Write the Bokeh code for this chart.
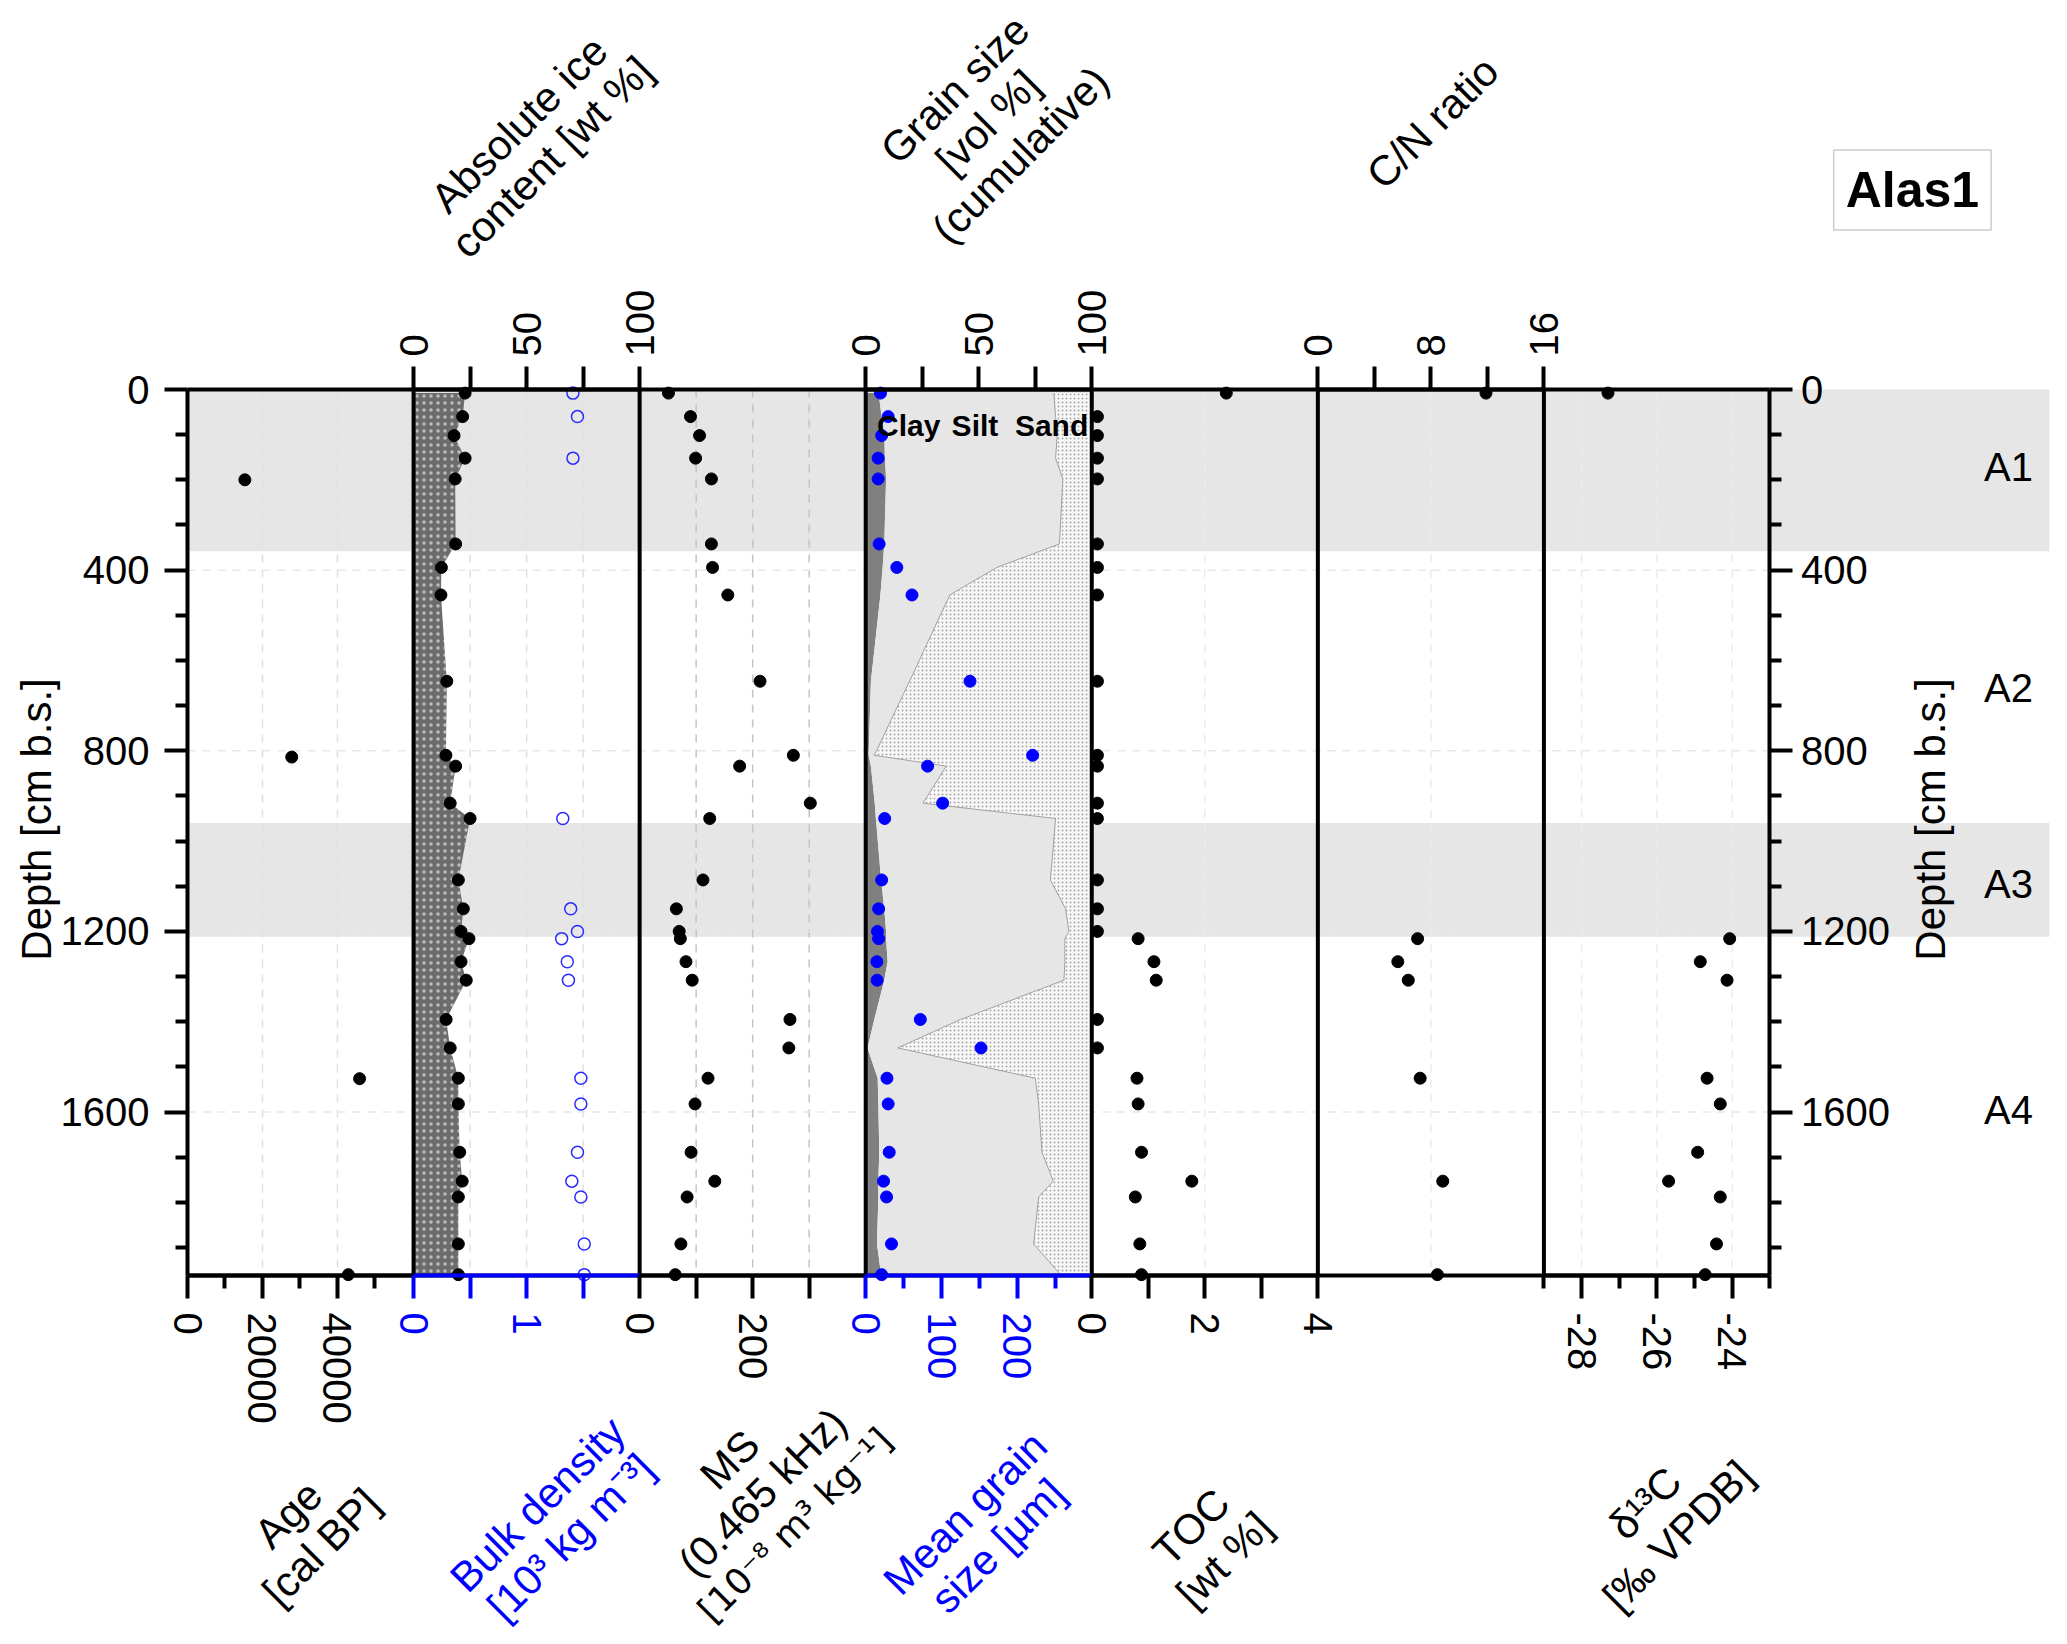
import math
from bokeh.plotting import figure
from bokeh.models import (Range1d, LinearAxis, FixedTicker, BoxAnnotation, Label,
                          PrintfTickFormatter)
from bokeh.embed import file_html
from bokeh.resources import INLINE

FONT = "Liberation Sans"

# ---------------- data ----------------
DEPTH = [8, 60, 102, 152, 198, 342, 394, 455, 646, 810, 834, 916, 950, 1086,
         1150, 1200, 1216, 1267, 1308, 1395, 1458, 1525, 1582, 1689, 1753,
         1788, 1892, 1960]
ICE = [22.8, 21.7, 17.9, 22.8, 18.4, 18.6, 12.3, 12.1, 14.7, 14.3, 18.6, 16.2,
       25.0, 19.8, 22.0, 21.0, 24.5, 21.0, 23.3, 14.4, 16.2, 19.8, 19.8, 20.4,
       21.5, 19.8, 19.8, 19.8]
MS = [51, 90, 106, 99, 127, 127, 129, 156, 213, 272, 177, 302, 124, 112, 65,
      70, 72, 82, 93, 266, 264, 121, 98, 91, 133, 84, 73, 63]
MGS = [19.5, 29.6, 21, 16.4, 16.4, 17.7, 41, 61, 137.5, 220, 81.6, 101.4, 25,
       21, 17, 15.5, 17, 14.7, 15, 72, 152, 28, 29.6, 31, 23.5, 27.5, 34, 21]
CLAY_CUM = [5.7, 7, 8.2, 8.5, 9, 8.2, 7.5, 6.5, 2.3, 1.3, 2.3, 4, 4.5, 6.8, 8.2,
            9, 9, 9.7, 8.2, 3.8, 0.8, 5.3, 5.6, 6, 5.6, 5.6, 5, 6.8]
CLAY_SILT_CUM = [83.2, 84, 84.7, 84, 87.2, 85.7, 58, 37.2, 19.4, 3.8, 35.7,
                 25.3, 84, 81.7, 88.4, 89.9, 88.1, 88.1, 87.7, 42, 14.2, 75,
                 76.5, 78, 83, 76.5, 74.3, 86.2]
TOC = [2.38, 0.1, 0.1, 0.1, 0.1, 0.1, 0.1, 0.1, 0.1, 0.1, 0.1, 0.1, 0.1, 0.1,
       0.1, 0.1, 0.82, 1.1, 1.14, 0.1, 0.1, 0.8, 0.82, 0.88, 1.77, 0.77, 0.85,
       0.88]

AGE_DEPTH = [200, 814, 1526, 1960]
AGE = [15300, 27800, 45900, 42900]

BD_DEPTH = [8, 60, 152, 950, 1150, 1200, 1216, 1267, 1308, 1525, 1582, 1689,
            1753, 1788, 1892, 1960]
BD = [1.41, 1.45, 1.41, 1.32, 1.39, 1.45, 1.31, 1.36, 1.37, 1.48, 1.48, 1.45,
      1.40, 1.48, 1.51, 1.51]

CN_DEPTH = [8, 1216, 1267, 1308, 1525, 1753, 1960]
CN = [11.9, 7.06, 5.66, 6.4, 7.24, 8.84, 8.46]

D13_DEPTH = [8, 1216, 1267, 1308, 1525, 1582, 1689, 1753, 1788, 1892, 1960]
D13 = [-27.3, -24.07, -24.85, -24.14, -24.67, -24.32, -24.92, -25.69, -24.32,
       -24.42, -24.72]

UNITS = ["A1", "A2", "A3", "A4"]
UNIT_MID = [172, 660, 1095, 1595]
BAND_TOP = [0, 960]
BAND_BOTTOM = [358, 1212]

DEPTH_TICKS = [0, 400, 800, 1200, 1600]
DEPTH_MINOR = [100, 200, 300, 500, 600, 700, 900, 1000, 1100, 1300, 1400,
               1500, 1700, 1800, 1900]

# ---------------- layout ----------------
W, H = 2060, 1640
N_PANELS = 7
Y_MAX = 1962
PX_PANEL = 226.07          # pixels per panel
PX_CM = 0.4516             # pixels per cm depth
ORIGIN_X = 187             # canvas x of the left panel edge
ORIGIN_Y = 389             # canvas y of depth 0
XA = -ORIGIN_X / PX_PANEL
XB = (W - ORIGIN_X) / PX_PANEL
YA = -ORIGIN_Y / PX_CM
YB = (H - ORIGIN_Y) / PX_CM
BAND_RIGHT = 8.236

# name: (panel index, lo, hi)
PANELS = {
    "age": (0, 0, 60300),
    "bd": (1, 0, 2.0),
    "ice": (1, 0, 100),
    "ms": (2, 0, 400),
    "mgs": (3, 0, 298),
    "grain": (3, 0, 100),
    "toc": (4, 0, 4),
    "cn": (5, 0, 16),
    "d13c": (6, -29, -23),
}

p = figure(width=W, height=H,
           x_range=Range1d(XA, XB), y_range=Range1d(YB, YA),
           x_axis_location=None, y_axis_location=None,
           output_backend="svg", toolbar_location=None, min_border=0)
p.outline_line_color = None
p.background_fill_color = "white"
p.border_fill_color = "white"
for g in p.grid:
    g.visible = False

for name, (k, lo, hi) in PANELS.items():
    w = hi - lo
    p.extra_x_ranges[name] = Range1d(lo + (XA - k) * w, lo + (XB - k) * w)

# grey bands
for t, b in zip(BAND_TOP, BAND_BOTTOM):
    p.add_layout(BoxAnnotation(top=t, bottom=b, left=0, right=BAND_RIGHT,
                               fill_color="#e6e6e6", fill_alpha=1.0,
                               line_color=None, level="underlay"))

# vertical grids per panel
GRID_TICKS = {
    "age": ([20000, 40000], "#e0e0e0"),
    "ice": ([25, 50, 75], "#e0e0e0"),
    "ms": ([100, 200, 300], "#c4c4c4"),
    "toc": ([2], "#ebebeb"),
    "cn": ([8], "#ebebeb"),
    "d13c": ([-28, -26, -24], "#ebebeb"),
}
for name, (ticks, col) in GRID_TICKS.items():
    p.segment(x0=ticks, x1=ticks, y0=0, y1=Y_MAX, x_range_name=name,
              line_color=col, line_dash="8 7", line_width=1.5)

# horizontal grid across panels only
p.segment(x0=0, x1=N_PANELS, y0=DEPTH_TICKS[1:], y1=DEPTH_TICKS[1:],
          line_color="#e8e8e8", line_dash="8 7", line_width=1.5)

# ---------------- glyphs ----------------
p.harea(x1=0, x2=ICE, y=DEPTH, x_range_name="ice", fill_color="#6c6c6c",
        hatch_pattern="dot", hatch_color="white", hatch_alpha=0.55,
        hatch_scale=7, hatch_weight=1.5)
p.harea(x1=0, x2=CLAY_CUM, y=DEPTH, x_range_name="grain", fill_color="#808080")
p.harea(x1=CLAY_CUM, x2=CLAY_SILT_CUM, y=DEPTH, x_range_name="grain",
        fill_color="#e6e6e6")
p.harea(x1=CLAY_SILT_CUM, x2=100, y=DEPTH, x_range_name="grain",
        fill_color="#f8f8f8", hatch_pattern="dot", hatch_color="#a8a8a8",
        hatch_scale=4, hatch_weight=1)
p.line(x=CLAY_SILT_CUM, y=DEPTH, x_range_name="grain", line_color="#a0a0a0",
       line_width=1)

# panel separators
p.segment(x0=list(range(1, N_PANELS)), x1=list(range(1, N_PANELS)),
          y0=0, y1=Y_MAX, line_color="black", line_width=4)

DOT = 12
p.scatter(x=AGE, y=AGE_DEPTH, x_range_name="age", size=DOT, color="black")
p.scatter(x=ICE, y=DEPTH, x_range_name="ice", size=DOT, color="black")
p.scatter(x=BD, y=BD_DEPTH, x_range_name="bd", size=DOT, fill_color=None,
          line_color="#2b2bff", line_width=1.5)
p.scatter(x=MS, y=DEPTH, x_range_name="ms", size=DOT, color="black")
p.scatter(x=MGS, y=DEPTH, x_range_name="mgs", size=DOT, color="#0000ff")
p.scatter(x=TOC, y=DEPTH, x_range_name="toc", size=DOT, color="black")
p.scatter(x=CN, y=CN_DEPTH, x_range_name="cn", size=DOT, color="black")
p.scatter(x=D13, y=D13_DEPTH, x_range_name="d13c", size=DOT, color="black")

# ---------------- axes ----------------
def style(ax, color="black", minor_out=23):
    ax.axis_line_width = 4
    ax.axis_line_color = color
    ax.major_tick_line_width = 4
    ax.major_tick_line_color = color
    ax.minor_tick_line_width = 4
    ax.minor_tick_line_color = color
    ax.major_tick_in = 0
    ax.minor_tick_in = 0
    ax.major_tick_out = 23
    ax.minor_tick_out = minor_out
    ax.major_label_text_color = color
    ax.major_label_text_font = FONT
    ax.major_label_text_font_size = "40px"


for side, loc, so in (("left", 0, 15), ("right", N_PANELS, 8)):
    ax = LinearAxis(fixed_location=loc, bounds=(0, Y_MAX),
                    ticker=FixedTicker(ticks=DEPTH_TICKS, minor_ticks=DEPTH_MINOR))
    style(ax, minor_out=12)
    ax.major_label_standoff = so
    p.add_layout(ax, side)

# plain frame lines top and bottom
for side, loc in (("below", Y_MAX), ("above", 0)):
    ax = LinearAxis(fixed_location=loc, bounds=(0, N_PANELS),
                    ticker=FixedTicker(ticks=[]))
    style(ax)
    ax.major_label_text_font_size = "0px"
    p.add_layout(ax, side)

AXES = [
    # name, side, major, minor, color, minor_out
    ("age", "below", [0, 20000, 40000], [10000, 30000, 50000], "black", 13),
    ("bd", "below", [0, 1], [0.5, 1.5], "#0000ff", 23),
    ("ms", "below", [0, 200], [100, 300], "black", 23),
    ("mgs", "below", [0, 100, 200], [50, 150, 250], "#0000ff", 13),
    ("toc", "below", [0, 2, 4], [1, 3], "black", 23),
    ("d13c", "below", [-28, -26, -24], [-29, -27, -25, -23], "black", 13),
    ("ice", "above", [0, 50, 100], [25, 75], "black", 23),
    ("grain", "above", [0, 50, 100], [25, 75], "black", 23),
    ("cn", "above", [0, 8, 16], [4, 12], "black", 23),
]
for name, side, major, minor, col, mo in AXES:
    k, lo, hi = PANELS[name]
    ax = LinearAxis(x_range_name=name,
                    fixed_location=(Y_MAX if side == "below" else 0),
                    bounds=(lo, hi),
                    ticker=FixedTicker(ticks=major, minor_ticks=minor))
    style(ax, col, mo)
    if name == "d13c":
        ax.formatter = PrintfTickFormatter(format="%d")
    ax.major_label_orientation = "vertical"
    ax.major_label_standoff = 14 if side == "below" else 10
    p.add_layout(ax, side)

# ---------------- text ----------------
LINE_H = 1.1
TITLE_PX = 42


def add_text(text, x, y, color="black", size="42px", angle=45, style="normal",
             x_range_name="default", align="center", font=FONT):
    p.add_layout(Label(x=x, y=y, text=text, x_range_name=x_range_name,
                       text_font=font, text_font_size=size,
                       text_color=color, text_font_style=style,
                       angle=angle, angle_units="deg",
                       text_align=align, text_baseline="middle",
                       text_line_height=LINE_H))


def add_title(lines, x, y, color="black"):
    """Place a 45-degree multi-line title, one label per line, centred on (x, y)."""
    n = len(lines)
    step = TITLE_PX * LINE_H / math.sqrt(2)   # px shift per line (down-right)
    for i, (txt, font, size) in enumerate(lines):
        off = (i - (n - 1) / 2) * step
        add_text(txt, x + off / PX_PANEL, y + off / PX_CM, color=color,
                 size=size, font=font)


F42 = "42px"
TITLES = [
    ([("Absolute ice", FONT, F42), ("content [wt %]", FONT, F42)], 1.539, -551, "black"),
    ([("Grain size", FONT, F42), ("[vol %]", FONT, F42), ("(cumulative)", FONT, F42)],
     3.539, -592, "black"),
    ([("C/N ratio", FONT, F42)], 5.507, -591, "black"),
    ([("Age", FONT, F42), ("[cal BP]", FONT, F42)], 0.518, 2527, "black"),
    ([("Bulk density", FONT, F42), ("[10\u00b3 kg m\u207b\u00b3]", FONT, F42)],
     1.621, 2505, "#0000ff"),
    ([("MS", FONT, F42), ("(0.465 kHz)", FONT, F42),
      ("[10\u207b\u2078 m\u00b3 kg\u207b\u00b9]", "DejaVu Sans", "36px")],
     2.543, 2442, "black"),
    ([("Mean grain", FONT, F42), ("size [\u00b5m]", FONT, F42)], 3.512, 2524, "#0000ff"),
    ([("TOC", FONT, F42), ("[wt %]", FONT, F42)], 4.512, 2555, "black"),
    ([("\u03b4\u00b9\u00b3C", FONT, F42), ("[\u2030 VPDB]", FONT, F42)], 6.52, 2502, "black"),
]
for lines, x, y, col in TITLES:
    add_title(lines, x, y, col)

# depth axis titles
add_text("Depth [cm b.s.]", -0.668, 952, angle=90)
add_text("Depth [cm b.s.]", 7.71, 952, angle=90)

for u, d in zip(UNITS, UNIT_MID):
    add_text(u, 8.055, d, size="40px", angle=0)

for txt, gx in (("Clay", 5.0), ("Silt", 38.0), ("Sand", 66.0)):
    add_text(txt, gx, 80, size="30px", angle=0, style="bold",
             x_range_name="grain", align="left")

p.add_layout(Label(x=7.63, y=-442, text="Alas1", text_font=FONT,
                   text_font_size="50px", text_font_style="bold",
                   text_color="black",
                   text_align="center", text_baseline="middle",
                   border_line_color="#cccccc", border_line_width=1.5,
                   background_fill_color="white", padding=12))

open("out.html", "w").write(file_html(p, INLINE))
